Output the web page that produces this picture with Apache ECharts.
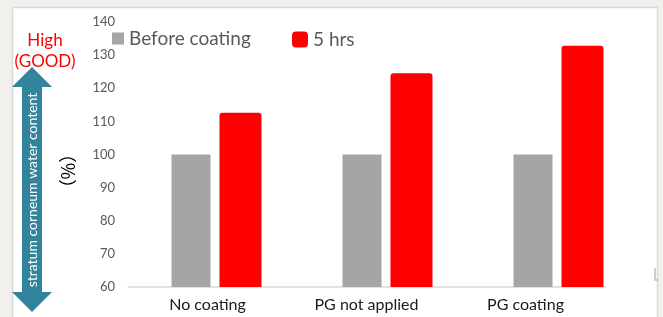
<!DOCTYPE html>
<html>
<head>
<meta charset="utf-8">
<script src="https://cdn.jsdelivr.net/npm/echarts@6/dist/echarts.min.js"></script>
<style>
  html, body { margin: 0; padding: 0; background: #f2f0ec; }
  #chart { width: 663px; height: 317px; }
</style>
</head>
<body>
<div id="chart"></div>
<script>
// data
const categories = ['No coating', 'PG not applied', 'PG coating'];
const beforeValues = [100, 100, 100];
const hrs5Values = [112.6, 124.5, 132.8];
const seriesNames = ['Before coating', '5 hrs'];

const FONT = 'Lato, "Noto Sans", sans-serif';
const TEAL = '#31849B';

const chart = echarts.init(document.getElementById('chart'), null, { renderer: 'canvas' });

const option = {
  backgroundColor: '#f2f0ec',
  animation: false,
  legend: [
    {
      left: 112, top: 29, padding: 0,
      itemWidth: 12, itemHeight: 12, itemGap: 0,
      icon: 'rect',
      data: [seriesNames[0]],
      textStyle: { fontFamily: FONT, fontSize: 19, color: '#595959' }
    },
    {
      left: 292, top: 30, padding: 0,
      itemWidth: 16, itemHeight: 16, itemGap: 0,
      icon: 'roundRect',
      data: [seriesNames[1]],
      textStyle: { fontFamily: FONT, fontSize: 19, color: '#595959' }
    }
  ],
  grid: [
    // label / axis-line grid
    { left: 128, width: 477, top: 22, bottom: 30 },
    // bar grid
    { left: 131, width: 513, top: 22, bottom: 30 }
  ],
  xAxis: [
    {
      gridIndex: 0, type: 'category', data: categories,
      axisLine: { lineStyle: { color: '#d9d9d9', width: 1.5 } },
      axisTick: { show: false },
      axisLabel: { fontFamily: FONT, fontSize: 16, color: '#1a1a1a', margin: 10 }
    },
    {
      gridIndex: 1, type: 'category', data: categories,
      show: false
    }
  ],
  yAxis: [
    { gridIndex: 0, type: 'value', min: 60, max: 140, show: false },
    {
      gridIndex: 1, type: 'value', min: 60, max: 140, interval: 10,
      axisLine: { show: false },
      axisTick: { show: false },
      splitLine: { show: false },
      axisLabel: { fontFamily: FONT, fontSize: 13, color: '#595959', margin: 16 }
    }
  ],
  series: [
    {
      name: seriesNames[0], type: 'bar',
      xAxisIndex: 1, yAxisIndex: 1,
      data: beforeValues,
      barWidth: 39, barGap: '23%',
      itemStyle: { color: '#a5a5a5' }
    },
    {
      name: seriesNames[1], type: 'bar',
      xAxisIndex: 1, yAxisIndex: 1,
      data: hrs5Values,
      barWidth: 42,
      itemStyle: { color: '#ff0000', borderRadius: [3, 3, 0, 0] }
    }
  ],
  graphic: [
    {
      type: 'rect', z: -10, silent: true,
      shape: { x: 12.5, y: 7.5, width: 645, height: 320 },
      style: { fill: '#ffffff', stroke: '#d9d9d9', lineWidth: 1.5 }
    },
    {
      type: 'polyline', silent: true,
      shape: { points: [[655, 268], [655, 280], [658, 280]] },
      style: { stroke: '#bfbfbf', lineWidth: 1.5, fill: null }
    },
    {
      type: 'polygon', silent: true,
      shape: {
        points: [[32, 67], [52, 87], [42, 87], [42, 292], [52, 292], [32, 312],
                 [12, 292], [22, 292], [22, 87], [12, 87]]
      },
      style: { fill: TEAL }
    },
    {
      type: 'text', silent: true,
      x: 32, y: 190, rotation: Math.PI / 2,
      style: {
        text: 'stratum corneum water content',
        fill: '#ffffff', font: '14px ' + FONT,
        align: 'center', verticalAlign: 'middle'
      }
    },
    {
      type: 'text', silent: true,
      x: 45, y: 41,
      style: { text: 'High', fill: '#ff0000', font: '17px ' + FONT, align: 'center', verticalAlign: 'middle' }
    },
    {
      type: 'text', silent: true,
      x: 45, y: 62,
      style: { text: '(GOOD)', fill: '#ff0000', font: '17px ' + FONT, align: 'center', verticalAlign: 'middle' }
    },
    {
      type: 'text', silent: true,
      x: 68, y: 171, rotation: -Math.PI / 2,
      style: {
        text: '（%）', fill: '#000000', font: '18px "Noto Sans CJK JP", sans-serif',
        align: 'center', verticalAlign: 'middle'
      }
    }
  ]
};

chart.setOption(option);
</script>
</body>
</html>
